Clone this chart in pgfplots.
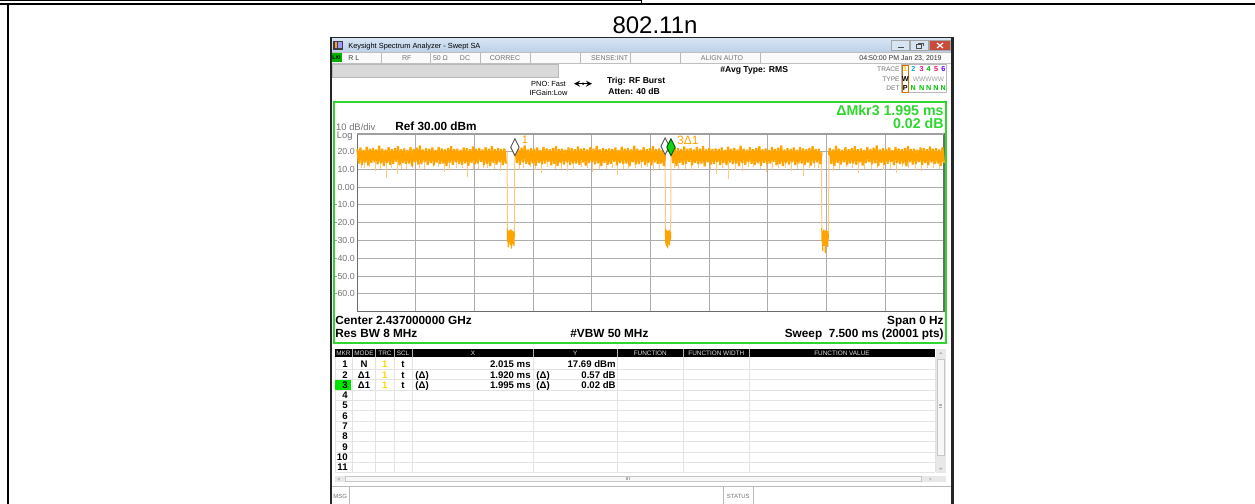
\documentclass[border=0pt]{standalone}
\usepackage{fontspec}
\setmainfont{Liberation Sans}
\usepackage{pgfplots}
\pgfplotsset{compat=1.18}
\definecolor{trc}{RGB}{255,163,0}
\definecolor{trl}{RGB}{255,200,125}
\definecolor{grd}{RGB}{172,172,172}
\definecolor{grn}{RGB}{45,215,45}
\definecolor{mkg}{RGB}{20,210,20}
\definecolor{tbarA}{RGB}{214,228,244}
\definecolor{tbarB}{RGB}{188,208,232}
\definecolor{lbl}{RGB}{115,115,115}
\definecolor{ylw}{RGB}{255,215,0}
\definecolor{clo}{RGB}{200,75,60}
\pgfdeclareplotmark{mkr}{%
 \pgfpathmoveto{\pgfqpoint{0pt}{0pt}}%
 \pgfpathlineto{\pgfqpoint{2.1pt}{4.2pt}}%
 \pgfpathlineto{\pgfqpoint{0pt}{8.4pt}}%
 \pgfpathlineto{\pgfqpoint{-2.1pt}{4.2pt}}%
 \pgfpathclose\pgfusepathqfillstroke}
\tikzset{
 base/.style={inner sep=0pt, text depth=0pt},
 fTitle/.style={base, font=\fontsize{3.7}{4}\selectfont, text height=2.65pt},
 fStat/.style={base, font=\fontsize{3.5}{4}\selectfont, text height=2.5pt, text=lbl},
 fSm/.style={base, font=\fontsize{3.7}{4}\selectfont, text height=2.65pt},
 fB/.style={base, font=\bfseries\fontsize{4.3}{5}\selectfont, text height=3.08pt},
 fTr/.style={base, font=\fontsize{3.3}{4}\selectfont, text height=2.36pt},
 fTd/.style={base, font=\bfseries\fontsize{3.6}{4}\selectfont, text height=2.58pt},
 fMk/.style={base, font=\bfseries\fontsize{7.1}{8}\selectfont, text height=5.08pt, text=grn},
 fDiv/.style={base, font=\fontsize{4.7}{5}\selectfont, text height=3.37pt, text=lbl},
 fRef/.style={base, font=\bfseries\fontsize{5.9}{7}\selectfont, text height=4.22pt},
 fHdr/.style={base, font=\fontsize{3.2}{4}\selectfont, text height=2.3pt, text=gray!25},
 fRow/.style={base, font=\bfseries\fontsize{4.8}{5}\selectfont, text height=3.44pt},
}
\begin{document}
\begin{tikzpicture}
\begin{scope}[x=0.5pt,y=-0.5pt,yshift=252pt]
\path[use as bounding box] (0,0) rectangle (1255,504);
% outer frame
\draw[line width=0.5pt] (0,0.6) -- (641,0.6) -- (641,3.8);
\draw[line width=1.15pt] (0,3.8) -- (1255,3.8);
\draw[line width=1pt] (7.8,3.8) -- (7.8,504);
\node[base, font=\fontsize{12}{14}\selectfont, text height=8.6pt] at (655,25.1) {802.11n};
% window
\fill[white] (330,38) rectangle (952,504);
\shade[top color=tbarA, bottom color=tbarB] (331,38.5) rectangle (951.5,52.5);
\fill[black!75] (333,41) rectangle (343,50);
\fill[orange!80] (334.5,42.5) rectangle (337,48.5);
\fill[blue!40] (338,42.5) rectangle (341.5,48.5);
\node[fTitle, anchor=west] at (348,45.5) {Keysight Spectrum Analyzer - Swept SA};
\filldraw[fill=tbarA, draw=gray!70, line width=0.3pt] (891.7,40.5) rectangle (909.3,50.5);
\filldraw[fill=tbarA, draw=gray!70, line width=0.3pt] (910.7,40.5) rectangle (928.3,50.5);
\filldraw[fill=clo, draw=gray!70, line width=0.3pt] (929.7,40.5) rectangle (950,50.5);
\draw[gray!60!black, line width=0.6pt] (897.5,47.5) -- (903.5,47.5);
\draw[gray!60!black, line width=0.4pt] (916,44.5) rectangle (921,48.5) (918,43) -- (923,43) -- (923,46.5);
\draw[white, line width=0.6pt] (937,43) -- (943,48) (937,48) -- (943,43);
% status row
\fill[gray!4] (331,52.7) rectangle (951.5,63.3);
\draw[gray!50, line width=0.3pt] (331,52.7) -- (951.5,52.7) (331,63.3) -- (951.5,63.3);
\foreach \x in {381.7,430,480,530,580,630,680,760} \draw[gray!55, line width=0.3pt] (\x,52.7) -- (\x,63.3);
\fill[green!70!black] (331.5,53.5) rectangle (341.5,62.5);
\node[base, font=\bfseries\fontsize{2.6}{3}\selectfont, text height=1.9pt] at (336.5,58) {LXI};
\node[fStat, anchor=west, text=black!75] at (348,58) {R L};
\node[fStat] at (406.7,58) {RF};
\node[fStat] at (440.5,58) {50 Ω};
\node[fStat] at (465,58) {DC};
\node[fStat] at (505,58) {CORREC};
\node[fStat] at (609.7,58) {SENSE:INT};
\node[fStat] at (722,58) {ALIGN AUTO};
\node[fStat, anchor=east, text=black!80] at (942,58) {04:50:00 PM Jan 23, 2019};
% second row
\filldraw[fill=gray!30, draw=gray!55, line width=0.4pt] (332,64.5) rectangle (558.3,77.7);
\node[fSm] at (548.5,83.7) {PNO: Fast};
\node[fSm] at (548.5,92.7) {IFGain:Low};
\draw[line width=0.35pt, <->, >=stealth] (574,83.7) -- (592,83.7);
\fill (583,83.7) circle (1.3);
\node[fB, anchor=west] at (606.7,80) {Trig: RF Burst};
\node[fB, anchor=west] at (608,91) {Atten: 40 dB};
\node[fB, anchor=west] at (720,69.3) {\#Avg Type: RMS};
\node[fTr, anchor=east, text=lbl] at (900,69.3) {TRACE};
\node[fTr, anchor=east, text=lbl] at (900,78.7) {TYPE};
\node[fTr, anchor=east, text=lbl] at (900,87.7) {DET};
\draw[gray!55, line width=0.3pt] (901.5,64.5) rectangle (946.5,92.5);
\draw[orange!85!black, line width=0.3pt] (902.3,65.2) rectangle (908.2,92);
\node[fTd, text=ylw!70!orange] at (905.2,69.3) {1};
\node[fTd, text=cyan!90!blue] at (913.3,69.3) {2};
\node[fTd, text=magenta] at (921.7,69.3) {3};
\node[fTd, text=green!70!black] at (928.7,69.3) {4};
\node[fTd, text=magenta!60!red] at (936,69.3) {5};
\node[fTd, text=blue!60!magenta] at (943.3,69.3) {6};
\node[fTd] at (905.2,78.7) {W};
\node[fTr, text=gray!75] at (928.5,78.7) {WWWWW};
\node[fTd] at (905.2,87.7) {P};
\foreach \x in {913.3,921.7,928.7,936,943.3} \node[fTd, text=green!75!black] at (\x,87.7) {N};
% green panel
\draw[grn, line width=1.15pt] (334.3,102.2) rectangle (945.8,342.8);
\node[fMk, anchor=east] at (944,110) {ΔMkr3 1.995 ms};
\node[fMk, anchor=east] at (944,123.3) {0.02 dB};
\node[fDiv, anchor=west] at (335.8,126.7) {10 dB/div};
\node[fDiv, anchor=west] at (336.5,135.3) {Log};
\node[fRef, anchor=west] at (395,126) {Ref 30.00 dBm};
\node[fRef, anchor=west] at (335,320) {Center 2.437000000 GHz};
\node[fRef, anchor=west] at (335,333.3) {Res BW 8 MHz};
\node[fRef, anchor=west] at (570,333.3) {\#VBW 50 MHz};
\node[fRef, anchor=east] at (944,320) {Span 0 Hz};
\node[fRef, anchor=east] at (944,333.3) {Sweep\ \ 7.500 ms (20001 pts)};
% marker table
\fill[black] (335,349.3) rectangle (935,357.3);
\foreach \x in {352.3,375.7,394,412.3,533.3,617.3,683.3,749.3} \draw[gray!60, line width=0.3pt] (\x,349.3) -- (\x,357.3);
\node[fHdr] at (343.5,353.3) {MKR};
\node[fHdr] at (364,353.3) {MODE};
\node[fHdr] at (385,353.3) {TRC};
\node[fHdr] at (403,353.3) {SCL};
\node[fHdr] at (473,353.3) {X};
\node[fHdr] at (575.3,353.3) {Y};
\node[fHdr] at (650.3,353.3) {FUNCTION};
\node[fHdr] at (716.3,353.3) {FUNCTION WIDTH};
\node[fHdr] at (842,353.3) {FUNCTION VALUE};
\foreach \y in {369.45,379.75,390.05,400.35,410.65,420.95,431.25,441.55,451.85,462.15,472.45} \draw[gray!22, line width=0.3pt] (335,\y) -- (935,\y);
\foreach \x in {335,352.3,375.7,394,412.3,533.3,617.3,683.3,749.3,935} \draw[gray!22, line width=0.3pt] (\x,357.3) -- (\x,472.45);
\fill[green!90!black] (335.3,380) rectangle (350.7,389.8);
\node[fRow, anchor=east] at (348,364.3) {1};
\node[fRow] at (364,364.3) {N};
\node[fRow, text=ylw] at (384.7,364.3) {1};
\node[fRow] at (403,364.3) {t};
\node[fRow, anchor=east] at (531,364.3) {2.015 ms};
\node[fRow, anchor=east] at (616,364.3) {17.69 dBm};
\node[fRow, anchor=east] at (348,374.6) {2};
\node[fRow] at (364,374.6) {Δ1};
\node[fRow, text=ylw] at (384.7,374.6) {1};
\node[fRow] at (403,374.6) {t};
\node[fRow, anchor=west] at (415,374.6) {(Δ)};
\node[fRow, anchor=east] at (531,374.6) {1.920 ms};
\node[fRow, anchor=west] at (536,374.6) {(Δ)};
\node[fRow, anchor=east] at (616,374.6) {0.57 dB};
\node[fRow, anchor=east] at (348,384.9) {3};
\node[fRow] at (364,384.9) {Δ1};
\node[fRow, text=ylw] at (384.7,384.9) {1};
\node[fRow] at (403,384.9) {t};
\node[fRow, anchor=west] at (415,384.9) {(Δ)};
\node[fRow, anchor=east] at (531,384.9) {1.995 ms};
\node[fRow, anchor=west] at (536,384.9) {(Δ)};
\node[fRow, anchor=east] at (616,384.9) {0.02 dB};
\node[fRow, anchor=east] at (348,395.2) {4};
\node[fRow, anchor=east] at (348,405.5) {5};
\node[fRow, anchor=east] at (348,415.8) {6};
\node[fRow, anchor=east] at (348,426.1) {7};
\node[fRow, anchor=east] at (348,436.4) {8};
\node[fRow, anchor=east] at (348,446.7) {9};
\node[fRow, anchor=east] at (348,457.0) {10};
\node[fRow, anchor=east] at (348,467.3) {11};
% scrollbars
\fill[gray!18] (935.5,349.3) rectangle (945.7,473);
\filldraw[fill=gray!6, draw=gray!45, line width=0.3pt] (937,359) rectangle (944.5,455);
\fill[gray!60] (939,354) -- (942.5,354) -- (940.75,352) -- cycle;
\fill[gray!60] (939,468) -- (942.5,468) -- (940.75,470) -- cycle;
\draw[gray!60, line width=0.25pt] (939.2,404)--(942.3,404) (939.2,405.5)--(942.3,405.5) (939.2,407)--(942.3,407);
\fill[gray!18] (335,475.7) rectangle (945.7,482.3);
\filldraw[fill=gray!6, draw=gray!45, line width=0.3pt] (345,476.6) rectangle (921.7,481.4);
\fill[gray!60] (339.5,477.3) -- (339.5,480.7) -- (337.5,479) -- cycle;
\fill[gray!60] (929.5,477.3) -- (929.5,480.7) -- (931.5,479) -- cycle;
\draw[gray!60, line width=0.25pt] (626.2,477.5)--(626.2,480.5) (627.7,477.5)--(627.7,480.5) (629.2,477.5)--(629.2,480.5);
% status bar
\draw[gray!55, line width=0.35pt] (331.3,486.5) -- (952,486.5);
\draw[gray!55, line width=0.35pt] (349.3,486.5) -- (349.3,504) (723.3,486.5) -- (723.3,504) (753.3,486.5) -- (753.3,504);
\node[fTr, anchor=west, text=lbl, font=\fontsize{3}{4}\selectfont] at (333,495.7) {MSG};
\node[fTr, text=lbl, font=\fontsize{3}{4}\selectfont] at (738.3,495.7) {STATUS};
% window border
\draw[black!85, line width=0.9pt] (330.9,504) -- (330.9,37.6) -- (952.5,37.6);
\draw[black!85, line width=1.25pt] (952.5,37.2) -- (952.5,504);
\end{scope}
\begin{axis}[
 at={(178.65pt,96.15pt)}, anchor=south west,
 scale only axis, width=293.35pt, height=89pt,
 xmin=0, xmax=7.5, ymin=-70, ymax=30,
 xtick={0.75,1.5,2.25,3,3.75,4.5,5.25,6,6.75}, xticklabels={},
 ytick={-60,-50,-40,-30,-20,-10,0,10,20},
 yticklabels={-60.0,-50.0,-40.0,-30.0,-20.0,-10.0,0.00,10.0,20.0},
 yticklabel style={font=\fontsize{4.4}{5}\selectfont, text=lbl, inner sep=0pt, xshift=-1.1pt},
 tick style={draw=none},
 grid=major, major grid style={draw=grd, line width=0.5pt},
 axis line style={draw=gray!85!black, line width=0.6pt},
 clip=false,
]
% light downward spikes
\addplot[draw=none, error bars/.cd, y dir=minus, y explicit, error mark=none, error bar style={draw=trl, line width=0.5pt}] coordinates {
(0.09,14) -= (0,3.5) (0.23,14) -= (0,5.0) (0.37,14) -= (0,9.0) (0.51,14) -= (0,6.5) (0.63,14) -= (0,3.8)
(0.79,14) -= (0,4.6) (0.97,14) -= (0,2.8) (1.11,14) -= (0,5.7) (1.27,14) -= (0,3.4) (1.41,14) -= (0,8.2)
(1.55,14) -= (0,4.1) (1.67,14) -= (0,3.0) (1.83,14) -= (0,5.2) (2.07,14) -= (0,4.4) (2.21,14) -= (0,2.9)
(2.35,14) -= (0,6.1) (2.53,14) -= (0,3.6) (2.69,14) -= (0,4.8) (2.87,14) -= (0,2.7) (3.01,14) -= (0,5.4)
(3.19,14) -= (0,3.9) (3.33,14) -= (0,7.1) (3.47,14) -= (0,4.3) (3.63,14) -= (0,3.0) (3.79,14) -= (0,5.1)
(4.11,14) -= (0,3.7) (4.27,14) -= (0,4.5) (4.45,14) -= (0,2.8) (4.59,14) -= (0,6.8) (4.75,14) -= (0,9.4)
(4.93,14) -= (0,4.9) (5.07,14) -= (0,2.6) (5.23,14) -= (0,5.6) (5.39,14) -= (0,3.3) (5.55,14) -= (0,4.7)
(5.71,14) -= (0,7.5) (5.85,14) -= (0,3.5) (6.09,14) -= (0,5.0) (6.25,14) -= (0,2.9) (6.41,14) -= (0,5.9)
(6.57,14) -= (0,3.8) (6.73,14) -= (0,4.4) (6.89,14) -= (0,6.3) (7.05,14) -= (0,3.2) (7.21,14) -= (0,4.8)
(7.37,14) -= (0,3.0)
(0.05,14) -= (0,3.5) (0.16,14) -= (0,2.8) (0.30,14) -= (0,3.9) (0.44,14) -= (0,3.2) (0.57,14) -= (0,4.1)
(0.71,14) -= (0,3.0) (0.86,14) -= (0,3.7) (1.04,14) -= (0,2.9) (1.18,14) -= (0,4.3) (1.34,14) -= (0,3.4)
(1.48,14) -= (0,3.8) (1.61,14) -= (0,3.1) (1.76,14) -= (0,4.0) (2.13,14) -= (0,3.3) (2.28,14) -= (0,4.2)
(2.43,14) -= (0,2.9) (2.61,14) -= (0,3.6) (2.77,14) -= (0,4.4) (2.94,14) -= (0,3.2) (3.10,14) -= (0,3.9)
(3.26,14) -= (0,3.0) (3.40,14) -= (0,4.1) (3.56,14) -= (0,3.5) (3.71,14) -= (0,2.8) (3.86,14) -= (0,3.7)
(4.05,14) -= (0,3.4) (4.19,14) -= (0,4.0) (4.36,14) -= (0,3.1) (4.52,14) -= (0,3.8) (4.67,14) -= (0,3.3)
(4.84,14) -= (0,4.2) (5.00,14) -= (0,2.9) (5.15,14) -= (0,3.6) (5.31,14) -= (0,4.3) (5.47,14) -= (0,3.2)
(5.63,14) -= (0,3.9) (5.78,14) -= (0,3.0) (5.90,14) -= (0,3.5) (6.17,14) -= (0,3.8) (6.33,14) -= (0,3.1)
(6.49,14) -= (0,4.1) (6.65,14) -= (0,3.4) (6.81,14) -= (0,3.7) (6.97,14) -= (0,2.9) (7.13,14) -= (0,4.2)
(7.29,14) -= (0,3.3) (7.44,14) -= (0,3.6)
};
% light dip edges
\addplot[trl, line width=0.5pt, unbounded coords=jump] coordinates {
(1.916,20.0)(1.918,-23.5) (1.917,nan) (2.009,-28.0)(2.013,17.0) (2.011,nan)
(3.935,18.26)(3.939,-23.2) (3.937,nan) (4.006,-28.5)(4.010,17.71) (4.008,nan)
(5.934,19.5)(5.938,-22.9) (5.936,nan) (6.022,-28.8)(6.030,18.0)
};
% band A
\addplot[trc, line width=1.05pt, line join=bevel] coordinates {
(0.00,21.4)(0.02,13.2)(0.04,22.2)(0.06,12.6)(0.08,20.9)(0.10,13.8)(0.12,22.7)(0.14,12.1)(0.16,21.5)(0.18,13.5)
(0.20,22.0)(0.22,14.0)(0.24,21.1)(0.26,12.8)(0.28,23.2)(0.30,13.4)(0.32,21.6)(0.34,11.9)(0.36,21.0)(0.38,13.7)
(0.40,22.4)(0.42,12.5)(0.44,21.3)(0.46,13.1)(0.48,21.9)(0.50,14.2)(0.52,22.9)(0.54,12.3)(0.56,21.2)(0.58,13.6)
(0.60,21.7)(0.62,12.9)(0.64,20.8)(0.66,13.3)(0.68,22.5)(0.70,11.7)(0.72,21.4)(0.74,13.9)(0.76,22.1)(0.78,12.7)
(0.80,23.4)(0.82,13.0)(0.84,21.1)(0.86,14.1)(0.88,21.8)(0.90,12.4)(0.92,21.5)(0.94,13.5)(0.96,22.3)(0.98,12.2)
(1.00,20.9)(1.02,13.8)(1.04,22.6)(1.06,12.9)(1.08,21.7)(1.10,13.2)(1.12,21.2)(1.14,11.8)(1.16,22.0)(1.18,13.6)
(1.20,23.0)(1.22,12.5)(1.24,21.4)(1.26,14.0)(1.28,21.6)(1.30,13.1)(1.32,21.0)(1.34,12.6)(1.36,22.2)(1.38,13.4)
(1.40,21.8)(1.42,12.0)(1.44,21.3)(1.46,13.7)(1.48,22.8)(1.50,12.8)(1.52,21.5)(1.54,13.3)(1.56,21.9)(1.58,14.2)
(1.60,21.1)(1.62,12.3)(1.64,22.4)(1.66,13.0)(1.68,21.6)(1.70,11.9)(1.72,23.1)(1.74,13.6)(1.76,21.2)(1.78,12.7)
(1.80,22.0)(1.82,13.9)(1.84,21.4)(1.86,12.4)(1.88,21.7)(1.90,13.2)
};
% block 1
\addplot[trc, line width=0.6pt, line join=bevel] coordinates {
(1.918,-23.5)(1.922,-30.8)(1.926,-25.2)(1.930,-33.9)(1.934,-24.6)(1.938,-31.5)(1.942,-26.0)(1.946,-29.8)(1.950,-24.1)(1.954,-32.7)
(1.958,-25.5)(1.962,-30.2)(1.966,-23.8)(1.970,-34.6)(1.974,-25.9)(1.978,-31.1)(1.982,-24.4)(1.986,-32.2)(1.990,-26.3)(1.994,-30.6)
(1.998,-24.9)(2.002,-33.1)(2.006,-25.6)(2.009,-28.0)
};
% band B
\addplot[trc, line width=1.05pt, line join=bevel] coordinates {
(2.015,17.69)
(2.02,22.5)(2.04,13.6)(2.06,21.4)(2.08,12.5)(2.10,22.1)(2.12,14.0)(2.14,23.4)(2.16,13.1)(2.18,21.1)(2.20,12.6)
(2.22,21.8)(2.24,13.4)(2.26,21.5)(2.28,12.0)(2.30,22.3)(2.32,13.7)(2.34,20.9)(2.36,12.8)(2.38,22.6)(2.40,13.3)
(2.42,21.7)(2.44,14.2)(2.46,21.2)(2.48,12.3)(2.50,22.0)(2.52,13.0)(2.54,23.0)(2.56,11.9)(2.58,21.4)(2.60,13.6)
(2.62,21.6)(2.64,12.7)(2.66,21.0)(2.68,13.9)(2.70,22.2)(2.72,12.4)(2.74,21.8)(2.76,13.2)(2.78,21.3)(2.80,13.2)
(2.82,22.8)(2.84,12.6)(2.86,21.5)(2.88,13.8)(2.90,21.9)(2.92,12.1)(2.94,21.1)(2.96,13.5)(2.98,22.4)(3.00,14.0)
(3.02,21.6)(3.04,12.8)(3.06,23.1)(3.08,13.4)(3.10,21.2)(3.12,11.9)(3.14,22.0)(3.16,13.7)(3.18,21.4)(3.20,12.5)
(3.22,21.7)(3.24,13.1)(3.26,21.4)(3.28,14.2)(3.30,22.2)(3.32,12.3)(3.34,20.9)(3.36,13.6)(3.38,22.7)(3.40,12.9)
(3.42,21.5)(3.44,13.3)(3.46,22.0)(3.48,11.7)(3.50,21.1)(3.52,13.9)(3.54,23.2)(3.56,12.7)(3.58,21.6)(3.60,13.0)
(3.62,21.0)(3.64,14.1)(3.66,22.4)(3.68,12.4)(3.70,21.3)(3.72,13.5)(3.74,21.9)(3.76,12.2)(3.78,22.9)(3.80,13.8)
(3.82,21.2)(3.84,12.9)(3.86,21.7)(3.88,13.2)(3.90,20.8)(3.92,11.8)(3.935,18.26)
};
% block 2
\addplot[trc, line width=0.6pt, line join=bevel] coordinates {
(3.939,-23.2)(3.943,-31.4)(3.947,-25.0)(3.951,-33.2)(3.955,-24.3)(3.959,-30.5)(3.963,-26.1)(3.967,-34.4)(3.971,-24.8)(3.975,-31.9)
(3.979,-25.7)(3.983,-29.6)(3.987,-24.0)(3.991,-32.8)(3.995,-26.4)(3.999,-30.0)(4.003,-25.1)(4.006,-28.5)
};
% band C
\addplot[trc, line width=1.05pt, line join=bevel] coordinates {
(4.010,17.71)
(4.02,21.0)(4.04,13.4)(4.06,22.2)(4.08,11.9)(4.10,21.8)(4.12,13.7)(4.14,21.3)(4.16,12.5)(4.18,22.8)(4.20,13.1)
(4.22,21.5)(4.24,14.2)(4.26,21.9)(4.28,12.3)(4.30,21.1)(4.32,13.6)(4.34,22.4)(4.36,12.9)(4.38,21.6)(4.40,13.3)
(4.42,23.1)(4.44,11.7)(4.46,21.2)(4.48,13.9)(4.50,22.0)(4.52,12.7)(4.54,21.4)(4.56,13.0)(4.58,21.7)(4.60,14.1)
(4.62,21.4)(4.64,12.4)(4.66,22.2)(4.68,13.5)(4.70,20.9)(4.72,12.2)(4.74,22.7)(4.76,13.8)(4.78,21.5)(4.80,12.9)
(4.82,22.0)(4.84,13.2)(4.86,21.1)(4.88,11.8)(4.90,23.2)(4.92,13.6)(4.94,21.6)(4.96,12.5)(4.98,21.0)(5.00,14.0)
(5.02,22.4)(5.04,13.1)(5.06,21.3)(5.08,12.6)(5.10,21.9)(5.12,13.4)(5.14,22.9)(5.16,12.0)(5.18,21.2)(5.20,13.7)
(5.22,21.7)(5.24,12.8)(5.26,20.8)(5.28,13.3)(5.30,22.5)(5.32,14.2)(5.34,21.4)(5.36,12.3)(5.38,22.1)(5.40,13.0)
(5.42,23.4)(5.44,11.9)(5.46,21.1)(5.48,13.6)(5.50,21.8)(5.52,12.7)(5.54,21.5)(5.56,13.9)(5.58,22.3)(5.60,12.4)
(5.62,20.9)(5.64,13.2)(5.66,22.6)(5.68,13.2)(5.70,21.7)(5.72,12.6)(5.74,21.2)(5.76,13.8)(5.78,22.0)(5.80,12.1)
(5.82,23.0)(5.84,13.5)(5.86,21.4)(5.88,14.0)(5.90,21.6)(5.92,12.8)(5.934,19.5)
};
% block 3
\addplot[trc, line width=0.6pt, line join=bevel] coordinates {
(5.938,-22.9)(5.942,-30.9)(5.946,-24.7)(5.950,-35.8)(5.954,-25.3)(5.958,-31.7)(5.962,-23.9)(5.966,-33.0)(5.970,-26.2)(5.974,-29.9)
(5.978,-24.5)(5.982,-37.0)(5.986,-25.8)(5.990,-31.2)(5.994,-24.2)(5.998,-32.5)(6.002,-26.0)(6.006,-30.4)(6.010,-24.7)(6.014,-33.6)
(6.018,-25.4)(6.022,-28.8)
};
% band D
\addplot[trc, line width=1.05pt, line join=bevel] coordinates {
(6.030,18.0)
(6.04,22.0)(6.06,13.0)(6.08,21.1)(6.10,11.9)(6.12,23.2)(6.14,13.6)(6.16,21.6)(6.18,12.7)(6.20,21.0)(6.22,13.9)
(6.24,22.4)(6.26,12.4)(6.28,21.3)(6.30,13.2)(6.32,21.9)(6.34,13.2)(6.36,22.9)(6.38,12.6)(6.40,21.2)(6.42,13.8)
(6.44,21.7)(6.46,12.1)(6.48,20.8)(6.50,13.5)(6.52,22.5)(6.54,14.0)(6.56,21.4)(6.58,12.8)(6.60,22.1)(6.62,13.4)
(6.64,23.4)(6.66,11.9)(6.68,21.1)(6.70,13.7)(6.72,21.8)(6.74,12.5)(6.76,21.5)(6.78,13.1)(6.80,22.3)(6.82,14.2)
(6.84,20.9)(6.86,12.3)(6.88,22.6)(6.90,13.6)(6.92,21.7)(6.94,12.9)(6.96,21.2)(6.98,13.3)(7.00,22.0)(7.02,11.7)
(7.04,23.0)(7.06,13.9)(7.08,21.4)(7.10,12.7)(7.12,21.6)(7.14,13.0)(7.16,21.0)(7.18,14.1)(7.20,22.2)(7.22,12.4)
(7.24,21.8)(7.26,13.5)(7.28,21.3)(7.30,12.2)(7.32,22.8)(7.34,13.8)(7.36,21.5)(7.38,12.9)(7.40,21.9)(7.42,13.2)
(7.44,21.1)(7.46,11.8)(7.48,22.4)(7.50,13.6)
};
\draw[gray!75, line width=1.1pt] (rel axis cs:0,1) -- (rel axis cs:1,1);
% markers
\addplot[only marks, mark=mkr, mark options={fill=white, draw=gray!65!black, line width=0.45pt}] coordinates {(3.935,18.26)};
\addplot[only marks, mark=mkr, mark options={fill=white, draw=gray!65!black, line width=0.45pt},
 nodes near coords={1}, every node near coord/.style={anchor=west, xshift=3.2pt, yshift=7.8pt, font=\fontsize{5.5}{6}\selectfont, text=trc, inner sep=0pt}] coordinates {(2.015,17.69)};
\addplot[only marks, mark=mkr, mark options={fill=mkg, draw=green!35!black, line width=0.45pt},
 nodes near coords={3Δ1}, every node near coord/.style={anchor=west, xshift=2.6pt, yshift=7.5pt, font=\fontsize{6}{7}\selectfont, text=trc, fill=white, inner sep=0.3pt}] coordinates {(4.010,17.71)};
\end{axis}
\end{tikzpicture}
\end{document}
